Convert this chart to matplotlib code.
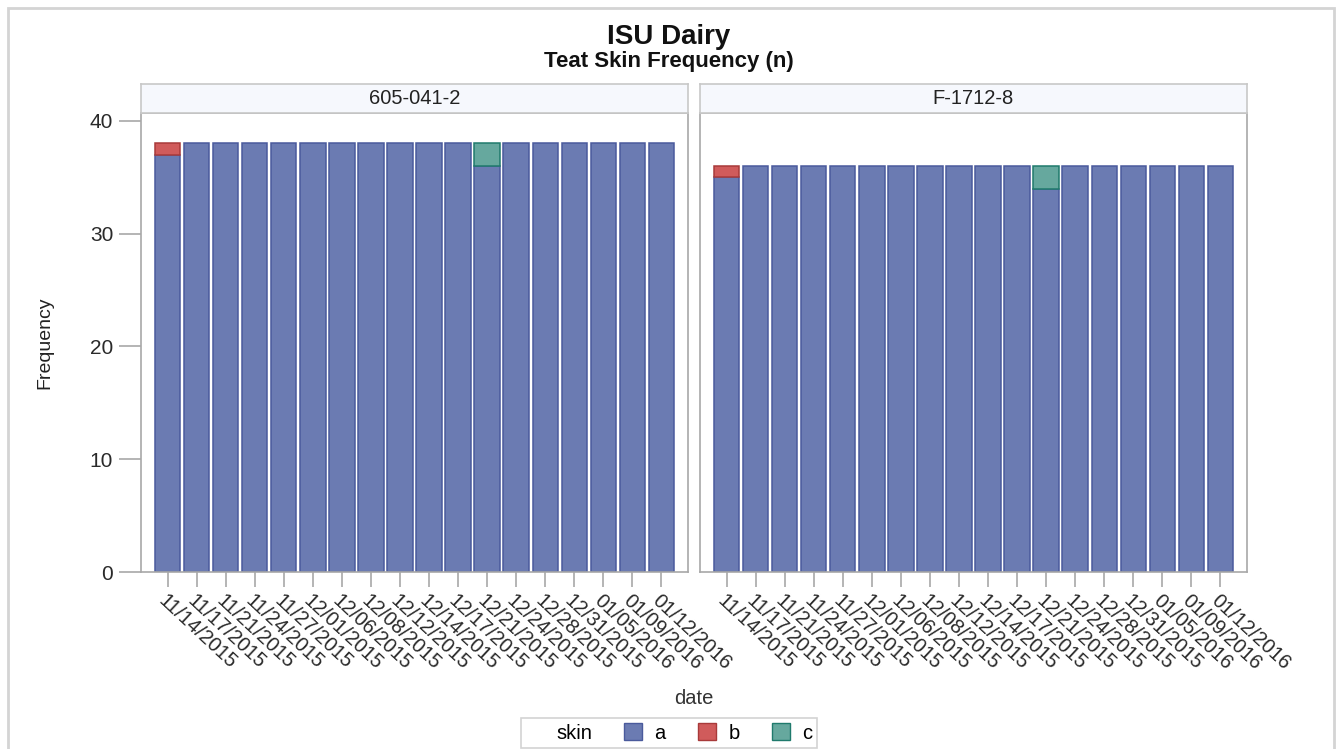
import matplotlib.pyplot as plt
from matplotlib.patches import Rectangle, Patch
from matplotlib.lines import Line2D

plt.rcParams['font.family'] = ['Liberation Sans', 'DejaVu Sans']

# ---------------- data ----------------
dates = ['11/14/2015', '11/17/2015', '11/21/2015', '11/24/2015', '11/27/2015',
         '12/01/2015', '12/06/2015', '12/08/2015', '12/12/2015', '12/14/2015',
         '12/17/2015', '12/21/2015', '12/24/2015', '12/28/2015', '12/31/2015',
         '01/05/2016', '01/09/2016', '01/12/2016']
panels = ['605-041-2', 'F-1712-8']

a_605 = [37, 38, 38, 38, 38, 38, 38, 38, 38, 38, 38, 36, 38, 38, 38, 38, 38, 38]
b_605 = [1, 0, 0, 0, 0, 0, 0, 0, 0, 0, 0, 0, 0, 0, 0, 0, 0, 0]
c_605 = [0, 0, 0, 0, 0, 0, 0, 0, 0, 0, 0, 2, 0, 0, 0, 0, 0, 0]

a_f17 = [35, 36, 36, 36, 36, 36, 36, 36, 36, 36, 36, 34, 36, 36, 36, 36, 36, 36]
b_f17 = [1, 0, 0, 0, 0, 0, 0, 0, 0, 0, 0, 0, 0, 0, 0, 0, 0, 0]
c_f17 = [0, 0, 0, 0, 0, 0, 0, 0, 0, 0, 0, 2, 0, 0, 0, 0, 0, 0]

series = [(a_605, b_605, c_605), (a_f17, b_f17, c_f17)]

skin_levels = ['a', 'b', 'c']
fill_colors = ['#6b7bb2', '#d05b5b', '#66a89e']
edge_colors = ['#4a5a9c', '#a83a3a', '#1f7a6c']

# ---------------- layout (pixels) ----------------
W, H = 1340, 749
fig = plt.figure(figsize=(W / 100, H / 100), dpi=100)
fig.patch.set_facecolor('white')


def px_axes(x0, y0, x1, y1):
    return fig.add_axes([x0 / W, 1 - y1 / H, (x1 - x0) / W, (y1 - y0) / H])


# outer frame
fig.patches.append(Rectangle((8 / W, -0.02), (1326 / W), 1 - 8 / H + 0.02,
                             transform=fig.transFigure, fill=False,
                             edgecolor='#d4d4d4', linewidth=2))

grid_col = '#a8a8a8'
text_col = '#2a2a2a'
x_pos = list(range(len(dates)))
panel_x = [(141, 688), (700, 1247)]

for i, (name, (x0, x1)) in enumerate(zip(panels, panel_x)):
    ax = px_axes(x0, 113, x1, 572)
    a_vals, b_vals, c_vals = series[i]
    bot_c = [a + b for a, b in zip(a_vals, b_vals)]
    stacks = [(a_vals, [0] * len(a_vals)), (b_vals, a_vals), (c_vals, bot_c)]
    for k, (vals, bottoms) in enumerate(stacks):
        lw = [1.1 if v else 0 for v in vals]
        ax.bar(x_pos, vals, bottom=bottoms, width=0.87, color=fill_colors[k],
               edgecolor=edge_colors[k], linewidth=lw)
    ax.set_xlim(-0.92, len(dates) - 0.08)
    ax.set_ylim(0, 40.7)
    for s in ax.spines.values():
        s.set_color(grid_col)
        s.set_linewidth(1.2)
    ax.set_xticks(x_pos)
    ax.set_xticklabels(dates, rotation=-43, ha='left', va='top',
                       rotation_mode='anchor', fontsize=14.5, color=text_col)
    ax.tick_params(axis='x', length=11, width=1.2, color=grid_col, pad=3)
    ax.set_yticks([0, 10, 20, 30, 40])
    if i == 0:
        ax.tick_params(axis='y', length=16, width=1.2, color=grid_col,
                       labelsize=15, labelcolor=text_col, pad=4)
        ax.set_ylabel('Frequency', fontsize=14, color='#222222', labelpad=26)
    else:
        ax.tick_params(axis='y', left=False, labelleft=False)

    # header strip
    sx = px_axes(x0, 84, x1, 113)
    sx.set_facecolor('#f6f8fd')
    sx.set_xticks([])
    sx.set_yticks([])
    for s in sx.spines.values():
        s.set_color('#c8c8c8')
        s.set_linewidth(1.2)
    sx.text(0.5, 0.5, name, ha='center', va='center', fontsize=14.5,
            color='#222222', transform=sx.transAxes)

# titles
fig.text(669 / W, 1 - 37 / H, 'ISU Dairy', ha='center', va='center',
         fontsize=20, fontweight='bold', color='#111111')
fig.text(669 / W, 1 - 62 / H, 'Teat Skin Frequency (n)', ha='center',
         va='center', fontsize=16, fontweight='bold', color='#111111')

fig.text(694 / W, 1 - 698 / H, 'date', ha='center', va='center',
         fontsize=14.5, color='#333333')

# legend
handles = [Line2D([], [], linestyle='none', marker=None)]
labels = ['skin']
for fc, ec, lv in zip(fill_colors, edge_colors, skin_levels):
    handles.append(Patch(facecolor=fc, edgecolor=ec, linewidth=1))
    labels.append(lv)
leg = fig.legend(handles, labels, loc='center', ncol=4,
                 bbox_to_anchor=(669 / W, 1 - 733 / H), frameon=True,
                 fancybox=False, edgecolor='#c8c8c8', fontsize=14.5,
                 handlelength=0.9, handleheight=0.9, handletextpad=0.6,
                 columnspacing=1.6, borderpad=0.25)
leg.get_frame().set_linewidth(1.2)

plt.savefig('out.png', dpi=100)
plt.close()
